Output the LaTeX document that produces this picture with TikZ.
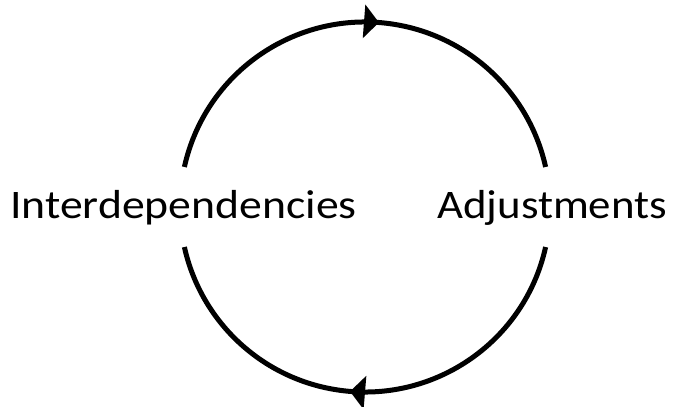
\documentclass[tikz,border=0pt]{standalone}
\usepackage{fontspec}
\usepackage{graphicx}
\setmainfont{Carlito}
\usetikzlibrary{arrows.meta,decorations.markings}
\tikzset{
  label/.style={anchor=base west, inner sep=0pt, font=\fontsize{40.5}{48}\selectfont},
  cyclearc/.style={line width=5pt, draw=black},
  arrowat/.style={postaction={decorate, decoration={markings,
     mark=at position #1 with {\arrow{Triangle[length=15pt,width=33pt]}}}}}
}
\begin{document}
\begin{tikzpicture}[x=1pt,y=1pt]
\useasboundingbox (0,0) rectangle (675,407);
\coordinate (c) at (365,200);
\node[label] (inter) at (10,188) {\scalebox{1.128}[1]{Interdependencies}};
\node[label] (adj) at (437,188) {\scalebox{1.108}[1]{Adjustments}};
\draw[cyclearc, arrowat=0.528] ([shift={(167.5:185)}]c) arc[start angle=167.5, end angle=12.5, radius=185];
\draw[cyclearc, arrowat=0.53] ([shift={(347.5:185)}]c) arc[start angle=347.5, end angle=192.5, radius=185];
\end{tikzpicture}
\end{document}
